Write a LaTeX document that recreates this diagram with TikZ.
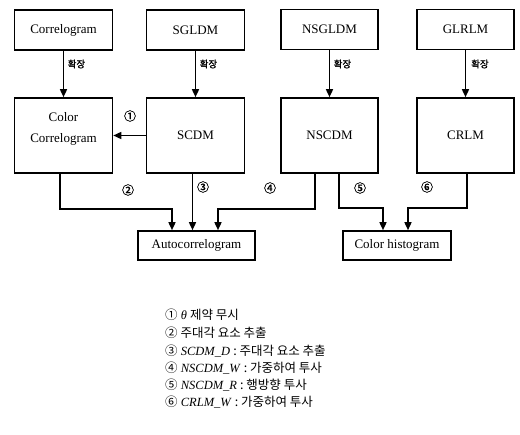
\documentclass[tikz,border=0pt]{standalone}
\usepackage{fontspec}
\setmainfont{Liberation Serif}
\newfontfamily\kr{Noto Sans CJK KR}
\newfontfamily\krb[FakeBold=1.5]{Noto Sans CJK KR}
\usetikzlibrary{arrows.meta}
\tikzset{
  box/.style={draw, line width=1.6pt, minimum width=98pt, inner sep=1pt, align=center, font=\fontsize{13}{16}\selectfont},
  topbox/.style={box, minimum height=40pt},
  midbox/.style={box, minimum height=75pt},
  lowbox/.style={draw, line width=1.6pt, minimum height=29pt, inner sep=1pt, font=\fontsize{13}{16}\selectfont},
  arr/.style={line width=1.5pt, -{Triangle[length=8pt,width=7pt]}},
  ext/.style={font=\krb\fontsize{9.5}{10}\selectfont, anchor=west, inner sep=0pt},
  num/.style={font=\krb\fontsize{12}{12}\selectfont, inner sep=0pt},
  leg/.style={anchor=west, inner sep=0pt, font=\fontsize{12.5}{14}\selectfont}
}
\begin{document}
\begin{tikzpicture}[x=1pt,y=-1pt]
\useasboundingbox (0,0) rectangle (520,435);
% top row
\node[topbox] (corr) at (63.5,30) {Correlogram};
\node[topbox] (sgldm) at (195.5,30) {SGLDM};
\node[topbox, minimum width=97pt] (nsgldm) at (329.5,29.5) {NSGLDM};
\node[topbox, minimum width=97pt] (glrlm) at (465.5,29.5) {GLRLM};
% middle row
\node[midbox] (ccorr) at (63.5,135.5) {};
\node[align=center, font=\fontsize{13}{21}\selectfont, inner sep=0pt] (cctext) at (63.5,129) {Color\\Correlogram};
\node[midbox] (scdm) at (195.5,135.5) {SCDM};
\node[midbox, minimum width=97pt] (nscdm) at (329.5,135.5) {NSCDM};
\node[midbox, minimum width=97pt] (crlm) at (465.5,135.5) {CRLM};
% bottom row
\node[lowbox, minimum width=117pt] (auto) at (196.5,245.5) {Autocorrelogram};
\node[lowbox, minimum width=108pt] (hist) at (397,245.5) {Color histogram};
% extension arrows
\draw[arr] (corr.south) -- (ccorr.north);
\draw[arr] (sgldm.south) -- (scdm.north);
\draw[arr] (nsgldm.south) -- (nscdm.north);
\draw[arr] (glrlm.south) -- (crlm.north);
\node[ext] (e1) at (67.5,64) {확장};
\node[ext] (e2) at (199.5,64) {확장};
\node[ext] (e3) at (333.5,64) {확장};
\node[ext] (e4) at (471,64) {확장};
% SCDM -> Color Correlogram
\draw[arr] (scdm.west) -- (ccorr.east);
\node[num] (n1) at (130,116) {①};
% to Autocorrelogram
\draw[arr] ([xshift=-3.5pt]ccorr.south) |- ([xshift=-24.5pt,yshift=21pt]auto.north) -- ([xshift=-24.5pt]auto.north);
\draw[arr] ([xshift=-3pt]scdm.south) -- ([xshift=-3pt]scdm.south |- auto.north);
\draw[arr] ([xshift=-14.5pt]nscdm.south) |- ([xshift=21.5pt,yshift=21pt]auto.north) -- ([xshift=21.5pt]auto.north);
\node[num] (n2) at (128,190) {②};
\node[num] (n3) at (203,187) {③};
\node[num] (n4) at (270,188) {④};
% to Color histogram
\draw[arr] ([xshift=9.5pt]nscdm.south) |- ([xshift=-14pt,yshift=22pt]hist.north) -- ([xshift=-14pt]hist.north);
\draw[arr] ([xshift=1.5pt]crlm.south) |- ([xshift=11pt,yshift=22pt]hist.north) -- ([xshift=11pt]hist.north);
\node[num] (n5) at (360,188) {⑤};
\node[num] (n6) at (427,187) {⑥};
% legend
\node[leg] (l1) at (165,315) {{\kr ①} \textit{θ} {\kr 제약 무시}};
\node[leg] (l2) at (165,333) {{\kr ② 주대각 요소 추출}};
\node[leg] (l3) at (165,351) {{\kr ③} \textit{SCDM\_D} {\kr : 주대각 요소 추출}};
\node[leg] (l4) at (165,368) {{\kr ④} \textit{NSCDM\_W} {\kr : 가중하여 투사}};
\node[leg] (l5) at (165,385) {{\kr ⑤} \textit{NSCDM\_R} {\kr : 행방향 투사}};
\node[leg] (l6) at (165,402) {{\kr ⑥} \textit{CRLM\_W} {\kr : 가중하여 투사}};
\end{tikzpicture}
\end{document}
